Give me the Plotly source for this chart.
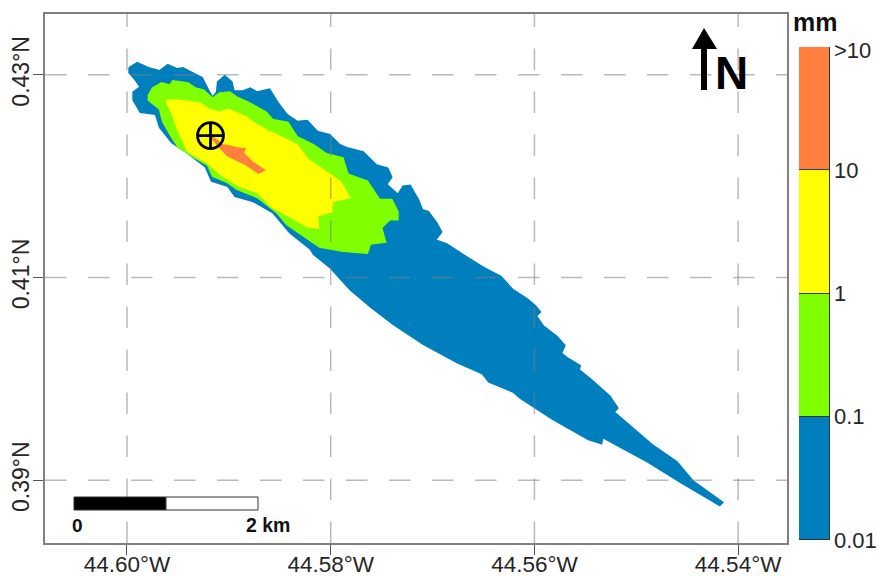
import plotly.graph_objects as go

W, H = 877, 576
L, R, T, B = 45, 787, 14, 543

# x range: degrees W (axis reversed), y range: degrees N
lon_range = [44.60805, 44.53520]
lat_range = [0.38380, 0.43600]

lon_ticks = [44.60, 44.58, 44.56, 44.54]
lon_labels = ["44.60\u00b0W", "44.58\u00b0W", "44.56\u00b0W", "44.54\u00b0W"]
lat_ticks = [0.43, 0.41, 0.39]
lat_labels = ["0.43\u00b0N", "0.41\u00b0N", "0.39\u00b0N"]

blue_lon = [44.5998,44.5990,44.5979,44.5968,44.5960,44.5951,44.5945,44.5935,44.5926,44.5920,44.5916,44.5912,44.5911,44.5904,44.5897,44.5895,44.5886,44.5879,44.5872,44.5860,44.5852,44.5843,44.5833,44.5823,44.5813,44.5801,44.5791,44.5784,44.5768,44.5755,44.5744,44.5740,44.5745,44.5734,44.5729,44.5722,44.5714,44.5710,44.5704,44.5696,44.5691,44.5697,44.5686,44.5666,44.5650,44.5633,44.5621,44.5607,44.5599,44.5594,44.5598,44.5591,44.5578,44.5570,44.5573,44.5578,44.5568,44.5555,44.5556,44.5545,44.5526,44.5518,44.5521,44.5525,44.5519,44.5483,44.5460,44.5444,44.5415,44.5418,44.5457,44.5489,44.5533,44.5534,44.5547,44.5582,44.5614,44.5621,44.5645,44.5651,44.5676,44.5709,44.5739,44.5761,44.5781,44.5801,44.5817,44.5820,44.5840,44.5857,44.5876,44.5894,44.5901,44.5917,44.5923,44.5941,44.5956,44.5968,44.5972,44.5987,44.5994,44.5994,44.5987,44.5992,44.5998]
blue_lat = [0.4307,0.4312,0.4307,0.4304,0.4310,0.4306,0.4307,0.4302,0.4297,0.4285,0.4278,0.4283,0.4293,0.4299,0.4293,0.4284,0.4284,0.4287,0.4283,0.4286,0.4273,0.4261,0.4254,0.4255,0.4244,0.4241,0.4231,0.4228,0.4224,0.4211,0.4208,0.4199,0.4192,0.4182,0.4190,0.4191,0.4177,0.4167,0.4165,0.4154,0.4145,0.4137,0.4133,0.4120,0.4110,0.4101,0.4088,0.4079,0.4072,0.4066,0.4062,0.4052,0.4042,0.4033,0.4026,0.4029,0.4021,0.4013,0.4009,0.4000,0.3983,0.3971,0.3968,0.3970,0.3965,0.3934,0.3918,0.3899,0.3878,0.3875,0.3898,0.3918,0.3942,0.3936,0.3940,0.3960,0.3981,0.3987,0.3997,0.4005,0.4016,0.4034,0.4054,0.4071,0.4088,0.4110,0.4123,0.4128,0.4144,0.4164,0.4175,0.4180,0.4190,0.4195,0.4209,0.4223,0.4233,0.4248,0.4261,0.4263,0.4275,0.4283,0.4288,0.4295,0.4302]

green_lon = [44.5979,44.5975,44.5966,44.5958,44.5955,44.5940,44.5933,44.5925,44.5916,44.5909,44.5899,44.5892,44.5881,44.5863,44.5857,44.5842,44.5833,44.5817,44.5804,44.5788,44.5783,44.5764,44.5752,44.5740,44.5734,44.5734,44.5742,44.5750,44.5746,44.5761,44.5764,44.5788,44.5811,44.5823,44.5843,44.5853,44.5872,44.5892,44.5902,44.5916,44.5921,44.5935,44.5950,44.5956,44.5965,44.5968,44.5979]
green_lat = [0.4280,0.4287,0.4292,0.4290,0.4294,0.4292,0.4287,0.4285,0.4277,0.4282,0.4283,0.4278,0.4273,0.4263,0.4256,0.4253,0.4239,0.4231,0.4222,0.4218,0.4202,0.4195,0.4177,0.4177,0.4165,0.4157,0.4157,0.4149,0.4135,0.4133,0.4124,0.4126,0.4130,0.4138,0.4152,0.4164,0.4179,0.4187,0.4194,0.4200,0.4211,0.4219,0.4229,0.4238,0.4254,0.4266,0.4275]

yellow_lon = [44.5961,44.5955,44.5948,44.5928,44.5919,44.5909,44.5901,44.5884,44.5876,44.5860,44.5853,44.5833,44.5822,44.5804,44.5791,44.5781,44.5798,44.5799,44.5813,44.5812,44.5823,44.5840,44.5857,44.5872,44.5889,44.5906,44.5921,44.5940,44.5951,44.5956,44.5960]
yellow_lat = [0.4275,0.4275,0.4275,0.4272,0.4266,0.4263,0.4266,0.4259,0.4253,0.4244,0.4241,0.4231,0.4216,0.4204,0.4195,0.4179,0.4175,0.4165,0.4161,0.4149,0.4150,0.4160,0.4169,0.4184,0.4190,0.4200,0.4213,0.4224,0.4248,0.4263,0.4270]

orange_lon = [44.5916,44.5907,44.5901,44.5893,44.5884,44.5886,44.5877,44.5865,44.5871,44.5884,44.5893,44.5901,44.5907,44.5916]
orange_lat = [0.4239,0.4231,0.4230,0.4228,0.4227,0.4223,0.4214,0.4206,0.4203,0.4212,0.4216,0.4220,0.4226,0.4237]

vent_lon = [44.5918]
vent_lat = [0.4240]

class_colors = ["#007FBF", "#7FFF00", "#FFFF00", "#FF7F3F"]
class_bins = [1, 1, 1, 1]
class_labels = ["0.01", "0.1", "1", "10", ">10"]
class_ticks = [0, 1, 2, 3, 3.97]

GRID = "rgba(128,128,128,0.55)"
TXT = "#262626"
FONT = "Liberation Sans"


def px(x):
    return x / W


def py(y):
    return 1 - y / H


fig = go.Figure()
for xs, ys, c in [(blue_lon, blue_lat, class_colors[0]),
                  (green_lon, green_lat, class_colors[1]),
                  (yellow_lon, yellow_lat, class_colors[2]),
                  (orange_lon, orange_lat, class_colors[3])]:
    fig.add_trace(go.Scatter(x=xs + xs[:1], y=ys + ys[:1], mode="lines", fill="toself",
                             fillcolor=c, line=dict(color=c, width=1.5), showlegend=False,
                             hoverinfo="skip"))

fig.add_trace(go.Scatter(x=vent_lon, y=vent_lat, mode="markers", showlegend=False,
                         marker=dict(symbol="circle-cross-open", size=26, color="black",
                                     line=dict(color="black", width=2.8))))

for v, c in zip(class_bins, class_colors):
    fig.add_trace(go.Bar(x=["mm"], y=[v], width=1, marker=dict(color=c, line=dict(color="#333333", width=1.5)),
                         xaxis="x2", yaxis="y2", showlegend=False, cliponaxis=False))

shapes = []
dash = "21.5px,21.5px"
for t in lon_ticks:
    shapes.append(dict(type="line", xref="x", yref="y", x0=t, x1=t, y0=lat_range[0], y1=lat_range[1],
                       line=dict(color=GRID, width=1.5, dash=dash), layer="above"))
for t in lat_ticks:
    shapes.append(dict(type="line", xref="x", yref="y", x0=lon_range[0], x1=lon_range[1], y0=t, y1=t,
                       line=dict(color=GRID, width=1.5, dash=dash), layer="above"))

# scale bar
shapes.append(dict(type="rect", xref="paper", yref="paper", x0=px(74), x1=px(166), y0=py(510), y1=py(497),
                   fillcolor="black", line=dict(color="#333333", width=1), layer="above"))
shapes.append(dict(type="rect", xref="paper", yref="paper", x0=px(166), x1=px(258), y0=py(510), y1=py(497),
                   fillcolor="white", line=dict(color="#333333", width=1), layer="above"))

# north arrow
shapes.append(dict(type="rect", xref="paper", yref="paper", x0=px(701), x1=px(707), y0=py(90), y1=py(48),
                   fillcolor="black", line=dict(width=0), layer="above"))
shapes.append(dict(type="path", xref="paper", yref="paper",
                   path=f"M {px(692)} {py(49)} L {px(704)} {py(28)} L {px(717)} {py(49)} Z",
                   fillcolor="black", line=dict(width=0), layer="above"))

annotations = [
    dict(text="N", x=px(731), y=py(73), font=dict(family=FONT, size=46, color="black", weight="bold")),
    dict(text="0", x=px(77), y=py(525), font=dict(family=FONT, size=19, color="#111111", weight="bold")),
    dict(text="2 km", x=px(268), y=py(525), font=dict(family=FONT, size=19.5, color="#111111", weight="bold")),
    dict(text="mm", x=px(815), y=py(22), font=dict(family=FONT, size=25, color="#111111", weight="bold")),
]
for a in annotations:
    a.update(xref="paper", yref="paper", showarrow=False, xanchor="center", yanchor="middle")

fig.update_layout(
    width=W, height=H, margin=dict(l=0, r=0, t=0, b=0, pad=0), paper_bgcolor="white", plot_bgcolor="white",
    barmode="stack", bargap=0, shapes=shapes, annotations=annotations, font=dict(family=FONT),
    xaxis=dict(domain=[px(L), px(R)], range=lon_range, tickvals=lon_ticks, ticktext=lon_labels, automargin=False,
               showgrid=False, zeroline=False, ticks="outside", ticklen=10, tickwidth=1.2, tickcolor="#555555",
               showline=True, mirror=True, linecolor="#808080", linewidth=1.5, ticklabelstandoff=-10,
               tickfont=dict(family=FONT, size=22.5, color=TXT), tickangle=0),
    yaxis=dict(domain=[py(B), py(T)], range=lat_range, tickvals=lat_ticks, ticktext=lat_labels, automargin=False,
               showgrid=False, zeroline=False, ticks="outside", ticklen=10, tickwidth=1.2, tickcolor="#555555",
               showline=True, mirror=True, linecolor="#808080", linewidth=1.5, ticklabelstandoff=-5,
               tickfont=dict(family=FONT, size=23, color=TXT), tickangle=-90),
    xaxis2=dict(domain=[px(799), px(830)], anchor="y2", showticklabels=False, showgrid=False, zeroline=False,
                showline=False, ticks="", automargin=False),
    yaxis2=dict(domain=[py(540), py(47)], anchor="x2", side="right", range=[0, 4], tickvals=class_ticks,
                ticktext=class_labels, showgrid=False, zeroline=False, showline=False, automargin=False,
                ticks="", ticklabelstandoff=3,
                tickfont=dict(family=FONT, size=22, color=TXT)),
)

fig.write_html("out.html", config=dict(displayModeBar=False),
               post_script="document.body.style.margin='0';document.documentElement.style.overflow='hidden';")
